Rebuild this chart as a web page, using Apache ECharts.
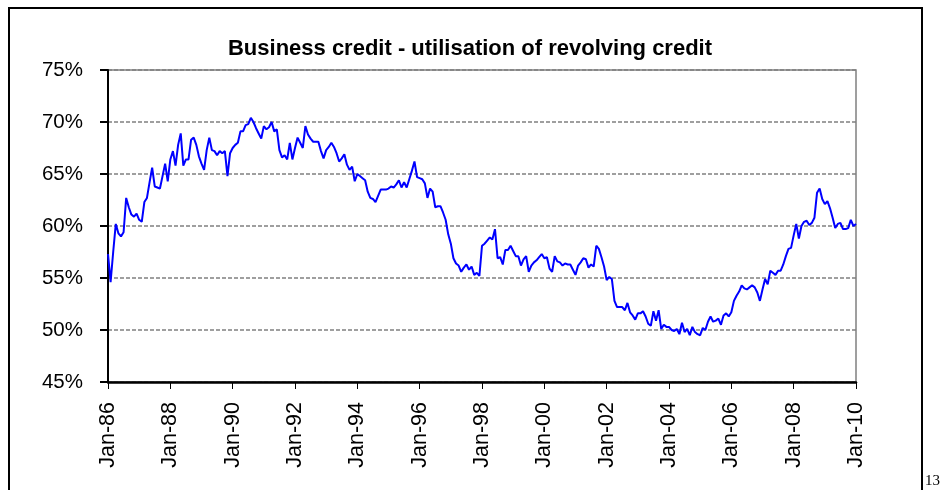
<!DOCTYPE html>
<html>
<head>
<meta charset="utf-8">
<script src="https://cdn.jsdelivr.net/npm/echarts@6/dist/echarts.min.js"></script>
<style>
html,body{margin:0;padding:0;background:#fff;}
#chart{width:941px;height:490px;}
</style>
</head>
<body>
<div id="chart"></div>
<script>
// Monthly series, Jan-86 .. Jan-10 (percent)
const startYear = 1986;
const monthNames = ['Jan','Feb','Mar','Apr','May','Jun','Jul','Aug','Sep','Oct','Nov','Dec'];
const utilisation = [
  // 1986
  57.3, 54.6, 57.5, 60.2, 59.3, 59.0, 59.4, 62.7, 61.8, 61.1, 60.9, 61.2,
  // 1987
  60.6, 60.4, 62.3, 62.7, 64.2, 65.6, 63.8, 63.7, 63.6, 64.8, 66.0, 64.3,
  // 1988
  66.4, 67.2, 65.8, 67.8, 68.9, 65.8, 66.4, 66.4, 68.3, 68.5, 67.8, 66.7,
  // 1989
  66.0, 65.4, 67.3, 68.5, 67.3, 67.2, 66.8, 67.2, 67.0, 67.2, 64.8, 67.0,
  // 1990
  67.5, 67.8, 68.0, 69.1, 69.1, 69.7, 69.8, 70.4, 70.0, 69.4, 68.9, 68.4,
  // 1991
  69.6, 69.3, 69.5, 70.0, 69.1, 69.3, 67.3, 66.6, 66.8, 66.4, 68.0, 66.4,
  // 1992
  67.5, 68.5, 68.0, 67.5, 69.6, 68.8, 68.4, 68.1, 68.1, 68.1, 67.2, 66.5,
  // 1993
  67.3, 67.6, 68.0, 67.6, 67.0, 66.2, 66.5, 66.9, 65.9, 65.4, 65.7, 64.3,
  // 1994
  65.0, 64.8, 64.6, 64.4, 63.3, 62.7, 62.6, 62.3, 62.9, 63.5, 63.5, 63.5,
  // 1995
  63.6, 63.8, 63.7, 64.0, 64.4, 63.7, 64.2, 63.7, 64.5, 65.3, 66.2, 64.7,
  // 1996
  64.6, 64.5, 64.1, 62.7, 63.6, 63.3, 61.8, 61.9, 61.9, 61.3, 60.6, 59.2,
  // 1997
  58.3, 56.9, 56.4, 56.2, 55.6, 56.0, 56.3, 55.8, 56.1, 55.3, 55.5, 55.2,
  // 1998
  58.1, 58.3, 58.6, 58.9, 58.7, 59.7, 56.9, 57.0, 56.3, 57.7, 57.7, 58.1,
  // 1999
  57.6, 57.1, 57.1, 56.2, 56.8, 57.1, 55.6, 56.2, 56.5, 56.7, 57.0, 57.3,
  // 2000
  56.9, 57.0, 55.9, 55.6, 57.1, 56.6, 56.5, 56.2, 56.4, 56.3, 56.3, 55.8,
  // 2001
  55.3, 56.2, 56.5, 56.9, 56.8, 56.0, 56.3, 56.1, 58.1, 57.8, 57.0, 56.1,
  // 2002
  54.8, 55.1, 54.9, 52.8, 52.2, 52.2, 52.2, 51.9, 52.6, 51.7, 51.4, 51.0,
  // 2003
  51.6, 51.6, 51.8, 51.3, 50.6, 50.4, 51.8, 50.9, 51.9, 50.1, 50.5, 50.3,
  // 2004
  50.3, 50.0, 49.9, 50.1, 49.6, 50.7, 49.8, 50.1, 49.5, 50.3, 49.8, 49.6,
  // 2005
  49.5, 50.2, 50.0, 50.8, 51.3, 50.8, 50.9, 51.1, 50.5, 51.4, 51.6, 51.3,
  // 2006
  51.7, 52.8, 53.3, 53.7, 54.3, 54.0, 53.9, 54.1, 54.3, 54.1, 53.6, 52.8,
  // 2007
  53.9, 54.9, 54.4, 55.7, 55.5, 55.3, 55.7, 55.7, 56.3, 57.1, 57.8, 57.9,
  // 2008
  59.1, 60.2, 58.8, 60.0, 60.4, 60.5, 60.1, 60.3, 60.8, 63.2, 63.6, 62.6,
  // 2009
  62.1, 62.4, 61.7, 60.8, 59.8, 60.2, 60.3, 59.7, 59.7, 59.8, 60.6, 60.0,
  // 2010
  60.2
];
const yTicks = {min: 45, max: 75, step: 5};
const labelEvery = 24; // months between labelled ticks

const categories = utilisation.map((_, i) => {
  const y = startYear + Math.floor(i / 12);
  return monthNames[i % 12] + '-' + String(y % 100).padStart(2, '0');
});

const chart = echarts.init(document.getElementById('chart'), null, {renderer: 'canvas'});
const font = 'Liberation Sans, Arial, sans-serif';
chart.setOption({
  backgroundColor: '#ffffff',
  animation: false,
  title: {
    text: 'Business credit - utilisation of revolving credit',
    left: 465, top: 33, textAlign: 'center',
    textStyle: {fontFamily: font, fontSize: 22, fontWeight: 'bold', color: '#000'}
  },
  grid: {
    left: 108, right: 85, top: 70, bottom: 108,
    show: true, borderColor: '#808080', borderWidth: 1.5, containLabel: false
  },
  xAxis: {
    type: 'category',
    data: categories,
    boundaryGap: false,
    axisLine: {lineStyle: {color: '#000', width: 2.5}},
    axisTick: {show: true, length: 7, interval: (i) => i % labelEvery === 0, lineStyle: {color: '#000', width: 1}},
    axisLabel: {
      interval: (i) => i % labelEvery === 0,
      rotate: 90, margin: 20,
      fontFamily: font, fontSize: 21.5, color: '#000'
    },
    splitLine: {show: false}
  },
  yAxis: {
    type: 'value',
    min: yTicks.min, max: yTicks.max, interval: yTicks.step,
    axisLine: {show: true, lineStyle: {color: '#000', width: 2}},
    axisTick: {show: true, length: 8, lineStyle: {color: '#000', width: 2}},
    axisLabel: {formatter: '{value}%', margin: 25, fontFamily: font, fontSize: 20.5, color: '#000'},
    splitLine: {show: true, lineStyle: {color: '#808080', width: 1.5, type: [4, 2]}}
  },
  series: [{
    type: 'line',
    data: utilisation,
    showSymbol: false,
    lineStyle: {color: '#0000ff', width: 2},
    itemStyle: {color: '#0000ff'}
  }],
  graphic: [
    {type: 'rect', shape: {x: 9, y: 8, width: 913, height: 520}, style: {fill: 'none', stroke: '#000', lineWidth: 2}, silent: true},
    {type: 'text', left: 925, top: 474, style: {text: '13', font: '15px "Liberation Serif", serif', fill: '#000'}, silent: true}
  ]
});
</script>
</body>
</html>
